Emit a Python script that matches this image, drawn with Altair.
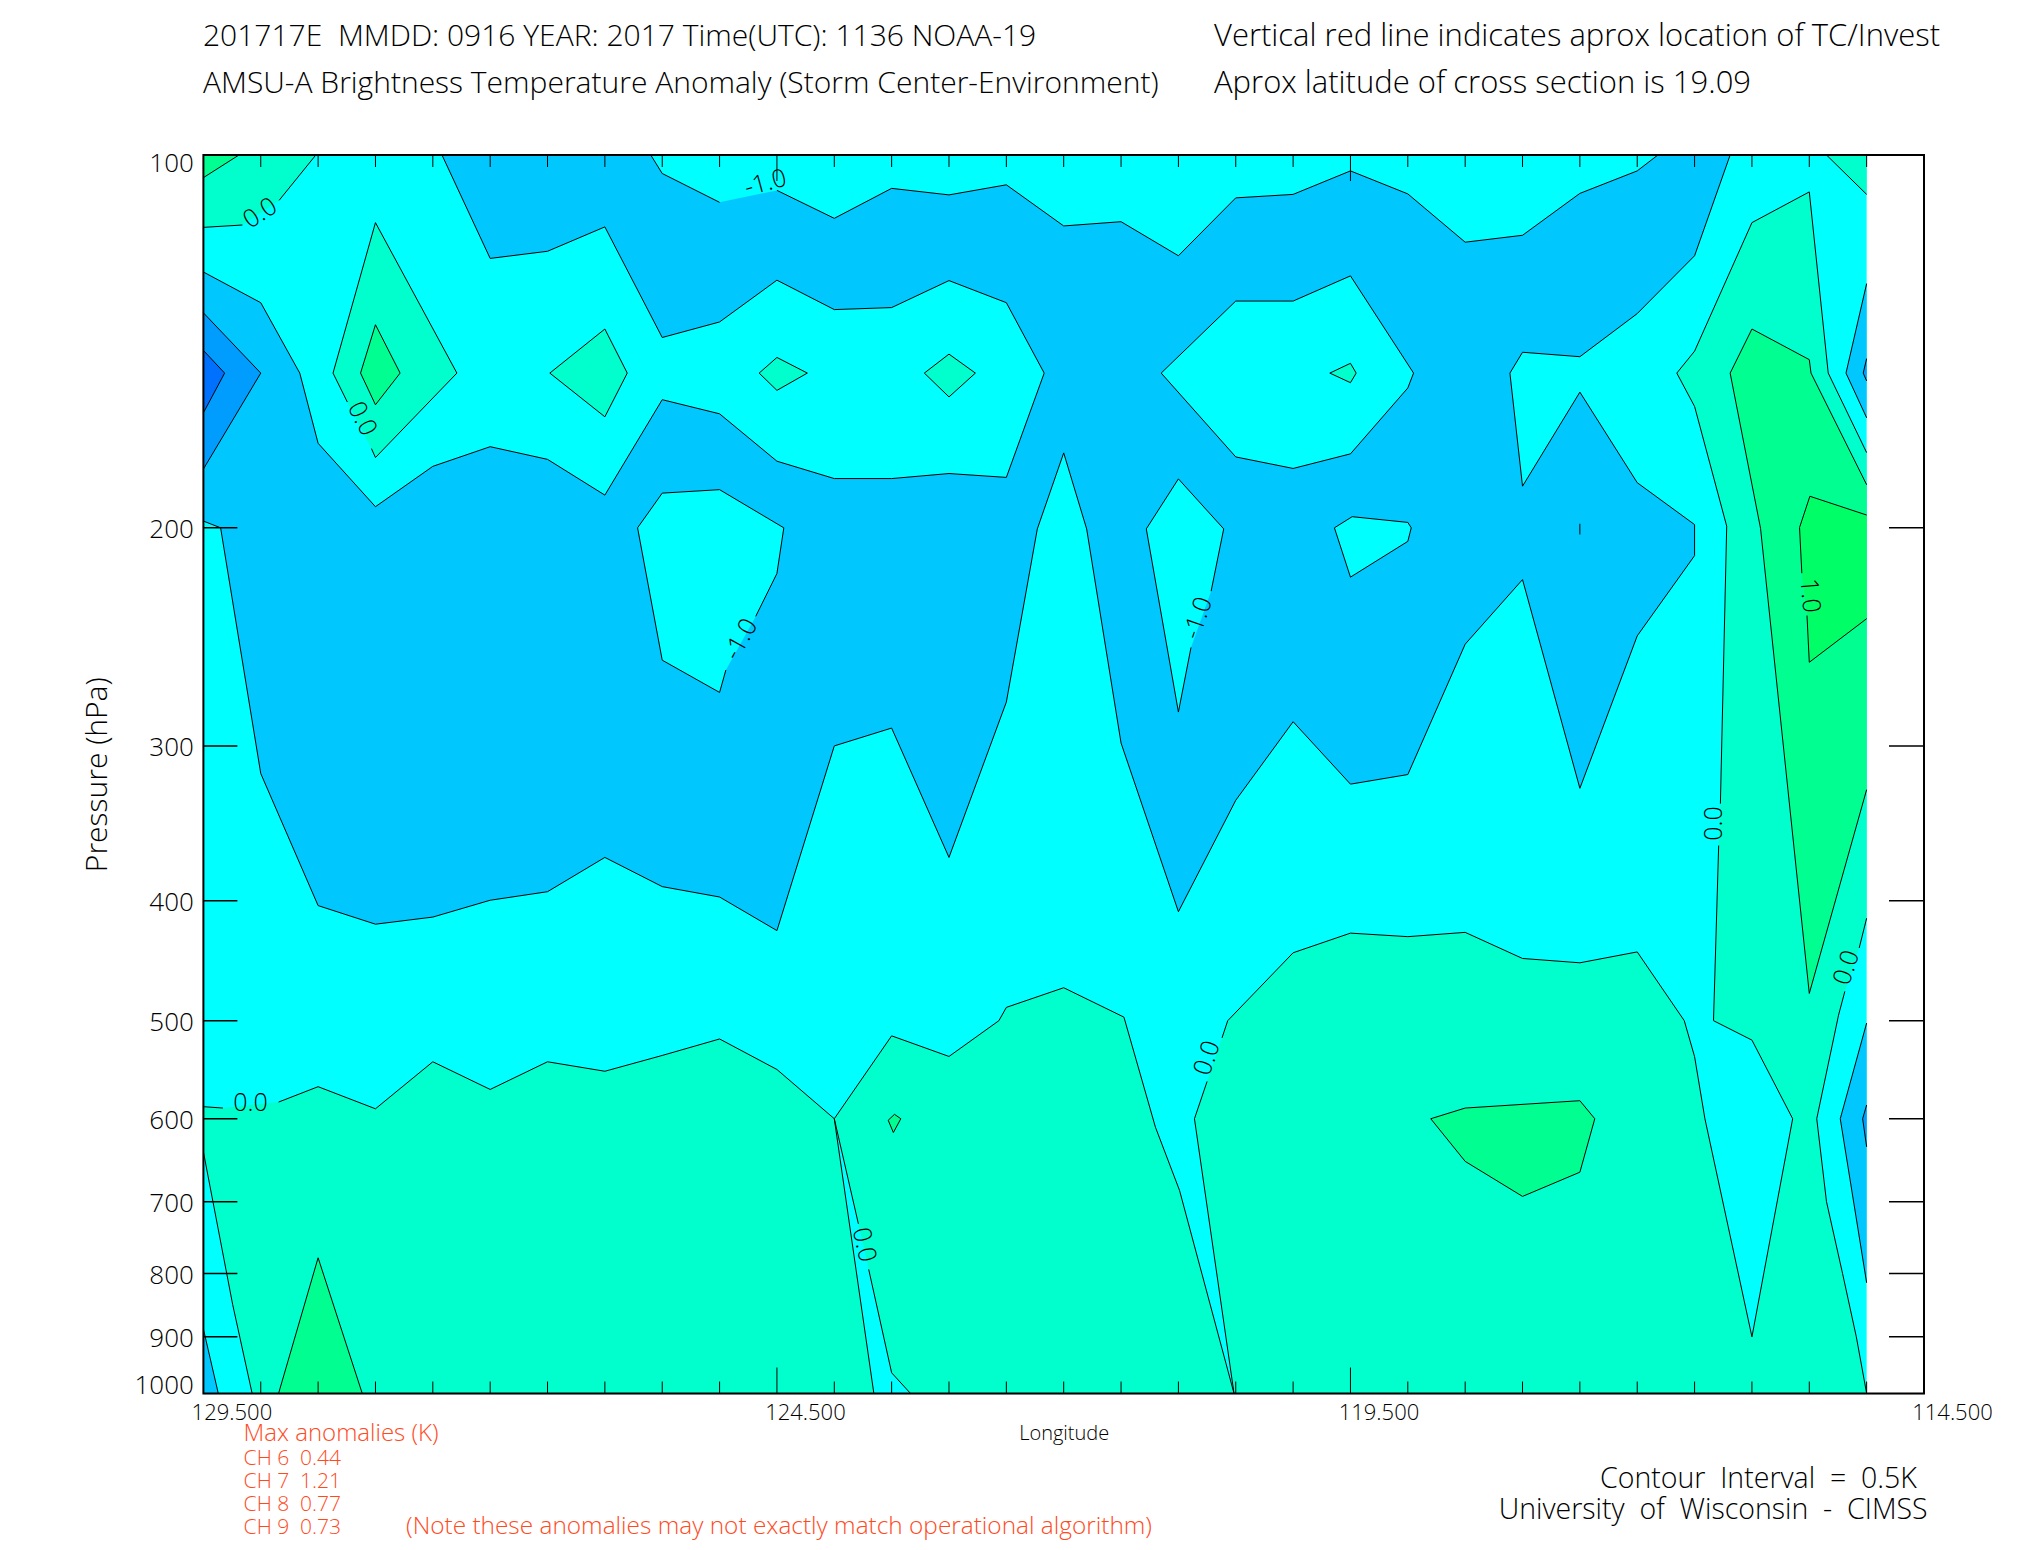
import altair as alt
import pandas as pd

# ---- colours of the contour bands ----
CYAN = "#00FFFF"; BLUE = "#00C8FF"; BLUE2 = "#009DFF"; BLUE3 = "#0070FF"
GREEN1 = "#00FFCC"; GREEN2 = "#00FF90"; GREEN3 = "#00FF66"

# ---- contour outlines as (longitude, pressure hPa); a new inner list = a break in the drawn line ----
BASE = [[(129.5, 100), (115.0, 100), (115.0, 1000), (129.5, 1000)]]
BLUE_MAIN = [
    [(127.42, 100), (127.0, 121.2), (126.5, 119.6), (126.0, 114.3), (125.5, 140.4), (125.0, 136.4), (124.5, 126.2),
     (124.0, 133.3), (123.5, 132.8), (123.0, 126.3), (122.5, 131.6), (122.17, 150), (122.5, 182.1), (123.0, 180.8),
     (123.5, 182.5), (124.0, 182.5), (124.5, 176.7), (125.0, 161.8), (125.5, 157.6), (126.0, 188.2), (126.5, 176.1),
     (127.0, 172), (127.5, 178.4), (128.0, 192.3), (128.5, 170.9), (128.66, 150), (129.0, 131.6), (129.5, 124.3)],
    [(129.5, 197.5), (129.35, 200), (129.0, 315.8), (128.5, 403.7), (128.0, 417.9), (127.5, 412.4), (127.0, 399.7),
     (126.5, 393.4), (126.0, 369.1), (125.5, 389.7), (125.0, 397.3), (124.5, 422.9), (124.0, 300), (123.5, 290.2),
     (123.0, 369.1), (122.5, 276.5), (122.23, 200.4), (122.0, 174), (121.8, 200.4), (121.5, 298.4), (121.0, 408.3),
     (120.5, 331.9), (120.0, 286.8), (119.5, 322.1), (119.0, 316.4), (118.5, 248.3), (118.0, 220.2), (117.5, 324.6),
     (117.0, 244.5), (116.5, 210.6), (116.5, 198.8), (117.0, 183.9), (117.5, 155.4), (118.0, 185.1), (118.11, 150),
     (118.0, 144.3), (117.5, 145.5), (117.0, 134.3), (116.5, 120.6), (116.19, 100)],
]
TOP_STRIP = [
    [(125.6, 100), (125.5, 103.5), (125.0, 109.2)],
    [(124.5, 106.8), (124.0, 112.5), (123.5, 106.4), (123.0, 107.7), (122.5, 105.7), (122.0, 114.1), (121.5, 113.2),
     (121.0, 120.6), (120.5, 108.3), (120.0, 107.6), (119.5, 103), (119.0, 107.5), (118.5, 117.6), (118.0, 116.1),
     (117.5, 107.4), (117.0, 103), (116.82, 100)],
]
ISLAND_A = [[(124.945, 260.5), (125.0, 271.6), (125.5, 255.8), (125.715, 200), (125.5, 187.5), (125.0, 186.3),
             (124.44, 200), (124.5, 217.7), (124.685, 235.8)]]
ISLAND_B = [[(120.89, 249.8), (121.0, 281.7), (121.28, 200.4), (121.0, 182.6), (120.605, 200.4), (120.715, 225)]]
ISLAND_C = [[(119.64, 200), (119.485, 195.9), (119.0, 198), (118.97, 200), (119.0, 205.1), (119.5, 219.2), (119.64, 200)]]
ISLAND_D = [[(121.15, 150), (120.5, 131.2), (120.0, 131.2), (119.5, 125.2), (118.95, 150), (119.0, 154.2),
             (119.5, 174.3), (120.0, 179.1), (120.5, 175.3), (121.15, 150)]]
ISLAND_D_CORE = [[(119.5, 147.3), (119.45, 150), (119.5, 152.7), (119.68, 150), (119.5, 147.3)]]
TINY = [[(117.5, 198.5), (117.5, 202.5)]]
DIAMOND_1 = [[(128.245, 158.3), (128.37, 150), (128.0, 113.4), (127.29, 150), (128.0, 175.5), (128.035, 172.6)]]
DIAMOND_1_CORE = [[(128.0, 137.1), (127.785, 150), (128.0, 159.1), (128.13, 150), (128.0, 137.1)]]
DIAMOND_2 = [[(126.0, 138.2), (125.805, 150), (126.0, 162.7), (126.48, 150), (126.0, 138.2)]]
DIAMOND_3 = [[(124.5, 145.7), (124.235, 150), (124.5, 154.9), (124.655, 150), (124.5, 145.7)]]
DIAMOND_4 = [[(123.0, 144.8), (122.77, 150), (123.0, 156.8), (123.215, 150), (123.0, 144.8)]]
CORNER_B = [[(128.52, 100), (128.84, 108.8)], [(129.16, 113.9), (129.5, 114.4)]]
CORNER_B_CLOSE = [(129.5, 100)]
CORNER_A = [[(129.19, 100), (129.5, 104.3)]]
CORNER_A_CLOSE = [(129.5, 100)]
LEFT_DARK = [[(129.5, 134.1), (129.0, 150), (129.5, 179.3)]]
LEFT_DARKER = [[(129.5, 143.8), (129.315, 150), (129.5, 161.5)]]
GROUND_1 = [
    [(129.5, 586.7), (129.33, 588.2)],
    [(128.845, 581.7), (128.5, 565.3), (128.0, 589), (127.5, 539.7), (127.0, 568.2), (126.5, 539.7), (126.0, 549.3),
     (125.5, 533.4), (125.0, 517.3), (124.5, 547.5), (124.0, 600), (123.655, 1000)],
    [(129.075, 1000), (129.245, 847.4), (129.5, 638.1)],
]
LOWER_LEFT = [[(129.5, 887), (129.37, 1000)]]
LOWER_LEFT_CLOSE = [(129.5, 1000)]
TRIANGLE = [[(128.845, 1000), (128.5, 777), (128.115, 1000)]]
SPECK = [[(123.475, 595.1), (123.42, 600), (123.485, 615.6), (123.53, 601.7), (123.475, 595.1)]]
GROUND_2 = [
    [(124.0, 600), (123.79, 729.4)],
    [(123.7, 793.9), (123.5, 962.2), (123.335, 1000)],
    [(120.515, 1000), (120.99, 685.6), (121.2, 609.6), (121.475, 496.7), (122.0, 470.3), (122.5, 487.8), (122.565, 500),
     (123.0, 534.4), (123.5, 514.3), (124.0, 600)],
]
GROUND_3 = [
    [(120.515, 1000), (120.86, 600), (120.75, 559.8)],
    [(120.62, 516.3), (120.57, 500), (120.0, 440.7), (119.5, 424.9), (119.0, 427.7), (118.5, 424.3), (118.0, 445.4),
     (117.5, 449), (117.0, 440), (116.59, 500), (116.5, 534.6), (116.41, 600), (116.0, 900), (115.645, 600),
     (116.0, 518.4), (116.335, 500), (116.29, 361)],
    [(116.275, 334), (116.22, 199.4), (116.5, 159.6), (116.655, 150), (116.5, 144), (116.0, 113.4), (115.5, 107.1),
     (115.335, 150), (115.0, 173.9)],
    [(115.0, 413.3), (115.065, 436.8)],
    [(115.19, 473.5), (115.245, 494.9), (115.435, 600), (115.35, 700), (115.21, 800), (115.09, 900), (115.0, 1000)],
]
BLOB = [[(118.8, 600), (118.5, 588.2), (117.5, 580.2), (117.37, 600), (117.5, 662.7), (118.0, 693.2), (118.5, 649.5), (118.8, 600)]]
BAND = [[(116.0, 138.2), (115.5, 146.3), (115.485, 150), (115.0, 184.6)],
        [(115.0, 325.4), (115.5, 475.3), (115.925, 200.2), (116.19, 150), (116.0, 138.2)]]
BAND_CORE = [[(115.495, 188.6), (115.0, 195.3)],
             [(115.0, 236.8), (115.5, 256.8), (115.52, 235.4)],
             [(115.565, 217.6), (115.585, 199.9), (115.495, 188.6)]]
TOP_RIGHT = [[(115.35, 100), (115.0, 107.6)]]
TOP_RIGHT_CLOSE = [(115.0, 100)]
RIGHT_UP = [[(115.0, 127), (115.18, 150), (115.0, 163)]]
RIGHT_UP_CORE = [[(115.0, 146), (115.03, 150), (115.0, 152.2)]]
RIGHT_LOW = [[(115.0, 502.2), (115.23, 600), (115.0, 814)]]
RIGHT_LOW_CORE = [[(115.0, 584.8), (115.035, 600), (115.0, 632.2)]]

# painting order: (colour, outline pieces, extra fill corners, draw outline?)
REGIONS = [
    (CYAN, BASE, [], False),
    (BLUE, BLUE_MAIN, [], True), (CYAN, TOP_STRIP, [], True),
    (BLUE2, LEFT_DARK, [], True), (BLUE3, LEFT_DARKER, [], True),
    (CYAN, ISLAND_A, [], True), (CYAN, ISLAND_B, [], True), (CYAN, ISLAND_C, [], True), (CYAN, ISLAND_D, [], True),
    (GREEN1, ISLAND_D_CORE, [], True), (CYAN, TINY, [], True),
    (GREEN1, DIAMOND_1, [], True), (GREEN2, DIAMOND_1_CORE, [], True),
    (GREEN1, DIAMOND_2, [], True), (GREEN1, DIAMOND_3, [], True), (GREEN1, DIAMOND_4, [], True),
    (GREEN1, CORNER_B, CORNER_B_CLOSE, True), (GREEN2, CORNER_A, CORNER_A_CLOSE, True),
    (GREEN1, GROUND_1, [], True), (BLUE, LOWER_LEFT, LOWER_LEFT_CLOSE, True), (GREEN2, TRIANGLE, [], True),
    (GREEN1, GROUND_2, [], True), (GREEN2, SPECK, [], True),
    (GREEN1, GROUND_3, [], True), (GREEN2, BLOB, [], True),
    (GREEN2, BAND, [], True), (GREEN3, BAND_CORE, [], True),
    (GREEN1, TOP_RIGHT, TOP_RIGHT_CLOSE, True),
    (BLUE, RIGHT_UP, [], True), (BLUE2, RIGHT_UP_CORE, [], True),
    (BLUE, RIGHT_LOW, [], True), (BLUE2, RIGHT_LOW_CORE, [], True),
]

# contour labels: longitude, pressure, text, rotation
LABEL_LON = [129.005, 124.6, 128.115, 124.815, 120.83, 115.495, 116.335, 115.175, 120.75, 123.74, 129.09]
LABEL_P = [111.4, 105.3, 163.3, 246, 236.5, 226.8, 346.5, 453, 536, 758.5, 583]
LABEL_TXT = ["0.0", "-1.0", "0.0", "-1.0", "-1.0", "1.0", "0.0", "0.0", "0.0", "0.0", "0.0"]
LABEL_ANGLE = [327, 345, 63, 299, 289, 85, 270, 288, 289, 77, 0]

MINOR_LONS = [129.0, 128.5, 128.0, 127.5, 127.0, 126.5, 126.0, 125.5, 125.0, 124.0, 123.5, 123.0, 122.5, 122.0, 121.5,
              121.0, 120.5, 120.0, 119.0, 118.5, 118.0, 117.5, 117.0, 116.5, 116.0, 115.5, 115.0]
MAJOR_LONS = [124.5, 119.5]
LABEL_LONS = [129.5, 124.5, 119.5, 114.5]
PRESSURE_TICKS = [200, 300, 400, 500, 600, 700, 800, 900]
PRESSURE_LABELS = [100, 200, 300, 400, 500, 600, 700, 800, 900, 1000]

# ---- layout ----
W, H = 1720.6, 1238.5
OX, OY = 203.4, 155.0
FONT = "Open Sans"

fill_rows, line_rows = [], []
for rid, (colour, pieces, close, outline) in enumerate(REGIONS):
    seq = 0
    for pid, piece in enumerate(pieces):
        for lon, p in piece:
            fill_rows.append(dict(region=f"r{rid:03d}", colour=colour, lon=lon, p=p, seq=seq)); seq += 1
        if outline:
            for k, (lon, p) in enumerate(piece):
                line_rows.append(dict(piece=f"r{rid:03d}p{pid}", lon=lon, p=p, seq=k))
    for lon, p in close:
        fill_rows.append(dict(region=f"r{rid:03d}", colour=colour, lon=lon, p=p, seq=seq)); seq += 1

xs = alt.Scale(domain=[129.5, 114.5], nice=False, zero=False)
ys = alt.Scale(type="log", domain=[100, 1000], reverse=True, nice=False)

x_axis = alt.Axis(values=LABEL_LONS, format=".3f", title="Longitude", grid=False, ticks=False, domain=False,
                  labelFont=FONT, labelFontSize=22, labelFontWeight=300, labelColor="black", labelOffset=28,
                  labelPadding=9, labelFlush=False, labelOverlap=False, titleFont=FONT, titleFontSize=20,
                  titleFontWeight=300, titleColor="black", titlePadding=0)
y_axis = alt.Axis(values=PRESSURE_LABELS, format="d", title="Pressure (hPa)", grid=False, ticks=False, domain=False,
                  labelFont=FONT, labelFontSize=26, labelFontWeight=300, labelColor="black", labelPadding=10,
                  labelBaseline="alphabetic", labelFlush=False, labelOverlap=False,
                  labelOffset=alt.expr("datum.value == 100 ? 16 : datum.value == 1000 ? 0 : 10"),
                  titleFont=FONT, titleFontSize=30, titleFontWeight=300, titleColor="black", titlePadding=22)

X = alt.X("lon:Q", scale=xs, axis=x_axis)
Y = alt.Y("p:Q", scale=ys, axis=y_axis)

fills = alt.Chart(pd.DataFrame(fill_rows)).mark_line(strokeWidth=0, clip=False).encode(
    x=X, y=Y, detail="region:N", order=alt.Order("seq:Q"), fill=alt.Fill("colour:N", scale=None))
lines = alt.Chart(pd.DataFrame(line_rows)).mark_line(color="black", strokeWidth=1).encode(
    x=X, y=Y, detail="piece:N", order=alt.Order("seq:Q"))

labels = alt.Chart(pd.DataFrame(dict(lon=LABEL_LON, p=LABEL_P, t=LABEL_TXT, a=LABEL_ANGLE))).mark_text(
    font=FONT, fontSize=25, fontWeight=300, color="black", align="center", baseline="middle").encode(
    x=X, y=Y, text="t:N", angle=alt.Angle("a:Q", scale=None))


def xticks(lons, length):
    d = pd.DataFrame(dict(lon=lons))
    top = alt.Chart(d).mark_rule(color="black", strokeWidth=1).encode(x=X, y=alt.value(0), y2=alt.value(length))
    bot = alt.Chart(d).mark_rule(color="black", strokeWidth=1).encode(x=X, y=alt.value(H), y2=alt.value(H - length))
    return [top, bot]


d_p = pd.DataFrame(dict(p=PRESSURE_TICKS))
ytick_l = alt.Chart(d_p).mark_rule(color="black", strokeWidth=1.5).encode(y=Y, x=alt.value(0), x2=alt.value(34))
ytick_r = alt.Chart(d_p).mark_rule(color="black", strokeWidth=1.5).encode(y=Y, x=alt.value(W - 35), x2=alt.value(W))
frame = alt.Chart(pd.DataFrame(dict(a=[0]))).mark_rect(fill=None, stroke="black", strokeWidth=2).encode(
    x=alt.value(0), x2=alt.value(W), y=alt.value(0), y2=alt.value(H))


def caption(s, x, y, size, colour="black"):
    return alt.Chart(pd.DataFrame(dict(t=[s]))).mark_text(
        font=FONT, fontSize=size, fontWeight=300, color=colour, align="left", baseline="alphabetic").encode(
        text="t:N", x=alt.value(x - OX), y=alt.value(y - OY))


RED = "#FF4A1C"
NB = "\u00a0\u00a0"
captions = [
    caption(f"201717E{NB}MMDD: 0916 YEAR: 2017 Time(UTC): 1136 NOAA-19", 203, 46, 30),
    caption("AMSU-A Brightness Temperature Anomaly (Storm Center-Environment)", 203, 93, 30),
    caption("Vertical red line indicates aprox location of TC/Invest", 1214, 46, 31),
    caption("Aprox latitude of cross section is 19.09", 1214, 93, 31),
    caption("Max anomalies (K)", 243.6, 1441, 24, RED),
    caption(f"CH 6{NB}0.44", 243.6, 1464.6, 21, RED),
    caption(f"CH 7{NB}1.21", 243.6, 1488, 21, RED),
    caption(f"CH 8{NB}0.77", 243.6, 1511, 21, RED),
    caption(f"CH 9{NB}0.73", 243.6, 1534, 21, RED),
    caption("(Note these anomalies may not exactly match operational algorithm)", 406, 1534, 24.4, RED),
    caption(f"Contour{NB}Interval{NB}={NB}0.5K", 1600, 1487.7, 28.5),
    caption(f"University{NB}of{NB}Wisconsin{NB}-{NB}CIMSS", 1498.7, 1519, 28.5),
]

chart = alt.layer(
    fills, lines, labels, *xticks(MINOR_LONS, 12), *xticks(MAJOR_LONS, 26), ytick_l, ytick_r, frame, *captions
).properties(
    width=W, height=H,
    autosize=alt.AutoSizeParams(type="none"),
    padding={"left": OX - 8, "top": OY - 8, "right": 2025 - OX - W - 8, "bottom": 1550 - OY - H - 8},
).configure_view(stroke=None).configure(background="white")

chart.save("out.html", embed_options={"renderer": "svg", "actions": False})
